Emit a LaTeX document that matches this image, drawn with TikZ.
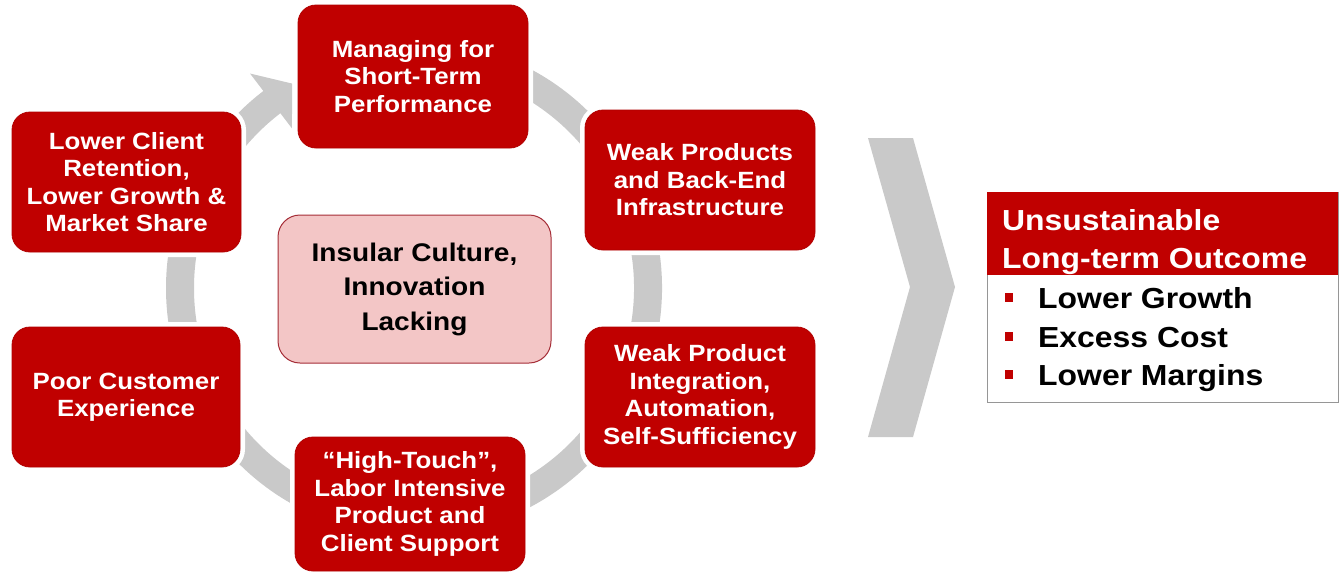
\documentclass[tikz,border=0pt]{standalone}
\usepackage{fontspec}
\setmainfont{Liberation Sans}[FakeStretch=1.1]
\usetikzlibrary{calc}
\definecolor{boxred}{RGB}{192,0,0}
\definecolor{ringgray}{RGB}{201,201,201}
\definecolor{pinkfill}{RGB}{243,198,198}
\definecolor{pinkedge}{RGB}{165,45,55}
\definecolor{framegray}{RGB}{150,150,150}
\begin{document}
\begin{tikzpicture}[x=1pt,y=-1pt,
  redbox/.style={rounded corners=18pt, fill=boxred, draw=boxred!92!black, line width=0.8pt,
    text=white, font=\bfseries\fontsize{23.5}{27.5}\selectfont, align=center, inner sep=0pt,
    preaction={draw=white, line width=10pt}},
  pinkbox/.style={rounded corners=22pt, fill=pinkfill, draw=pinkedge, line width=1pt,
    text=black, font=\bfseries\fontsize{25.5}{34.5}\selectfont, align=center, inner sep=0pt},
  ring/.style={draw=ringgray, line width=28pt},
  bigtext/.style={font=\bfseries\fontsize{29}{38}\selectfont, inner sep=0pt},
  bulletsq/.style={fill=boxred, minimum width=8pt, minimum height=9pt, inner sep=0pt}]
\useasboundingbox (0,0) rectangle (1340,573);
\coordinate (C) at (414,288);
% cycle ring with arrow
\draw[ring] ($(C)+(241:234)$) arc[start angle=241, end angle=593.0, radius=234];
\fill[ringgray] ($(C)+(232.6:270)$) -- ($(C)+(239.2:238)$) -- ($(C)+(232.6:201)$) -- cycle;
% boxes
\node[redbox, minimum width=230pt, minimum height=143pt] (top) at (413,76.5)
  {Managing for\\Short-Term\\Performance};
\node[redbox, minimum width=230pt, minimum height=140pt] (rtop) at (700,180)
  {Weak Products\\and Back-End\\Infrastructure};
\node[redbox, minimum width=230pt, minimum height=140pt] (rbot) at (700,397)
  {Weak Product\\Integration,\\Automation,\\Self-Sufficiency};
\node[redbox, minimum width=230pt, minimum height=134pt] (bot) at (410,504)
  {“High-Touch”,\\Labor Intensive\\Product and\\Client Support};
\node[redbox, minimum width=228pt, minimum height=140pt] (lbot) at (126,397)
  {Poor Customer\\Experience};
\node[redbox, minimum width=229pt, minimum height=140pt] (ltop) at (126.5,182)
  {Lower Client\\Retention,\\Lower Growth \&\\Market Share};
\node[pinkbox, minimum width=273pt, minimum height=148pt] (core) at (414.5,289)
  {Insular Culture,\\Innovation\\Lacking};
% chevron
\fill[ringgray] (868,138) -- (913,138) -- (955,287) -- (913,437) -- (868,437) -- (910,287) -- cycle;
% outcome box
\node[draw=framegray, line width=1pt, minimum width=351pt, minimum height=210pt,
  anchor=north west, inner sep=0pt] (outcome) at (987,192) {};
\node[fill=boxred, minimum width=351pt, minimum height=83pt, anchor=north west,
  inner sep=0pt] (hdr) at (987,192) {};
\node[bigtext, text=white, anchor=base west] (hdr1) at (1002,230) {Unsustainable};
\node[bigtext, text=white, anchor=base west] (hdr2) at (1002,268) {Long-term Outcome};
\node[bulletsq] (b1) at (1009,297) {};
\node[bulletsq] (b2) at (1009,336) {};
\node[bulletsq] (b3) at (1009,374) {};
\node[bigtext, anchor=base west] (t1) at (1038,308) {Lower Growth};
\node[bigtext, anchor=base west] (t2) at (1038,347) {Excess Cost};
\node[bigtext, anchor=base west] (t3) at (1038,385) {Lower Margins};
\end{tikzpicture}
\end{document}
